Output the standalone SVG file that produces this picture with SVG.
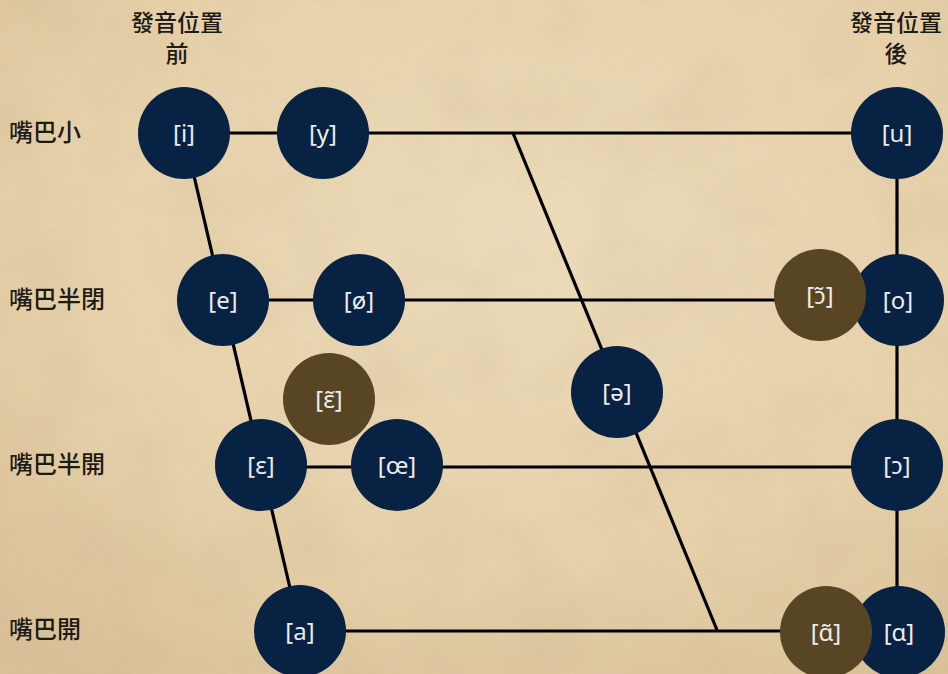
<svg xmlns="http://www.w3.org/2000/svg" width="948" height="674" viewBox="0 0 948 674">
<defs>
<radialGradient id="bg" cx="0.55" cy="0.35" r="0.8">
<stop offset="0" stop-color="#f0dfbe"/>
<stop offset="0.6" stop-color="#e9d4ad"/>
<stop offset="1" stop-color="#dcc39a"/>
</radialGradient>
<filter id="grain" x="0" y="0" width="100%" height="100%">
<feTurbulence type="fractalNoise" baseFrequency="0.9" numOctaves="2" seed="3"/>
<feColorMatrix type="matrix" values="0 0 0 0 0.45  0 0 0 0 0.35  0 0 0 0 0.2  0 0 0 0.5 -0.12"/>
</filter>
<filter id="blot" x="0" y="0" width="100%" height="100%">
<feTurbulence type="fractalNoise" baseFrequency="0.012" numOctaves="3" seed="7"/>
<feColorMatrix type="matrix" values="0 0 0 0 0.55  0 0 0 0 0.42  0 0 0 0 0.25  0 0 0 0.6 -0.25"/>
</filter>
<style>
.ln{stroke:#000;stroke-width:3.2;fill:none;stroke-linecap:butt}
.v{fill:#082244}
.n{fill:#574524}
.t{font-family:"Noto Sans","DejaVu Sans",sans-serif;font-size:24px;fill:#ececec;text-anchor:middle}
.h{font-family:"Noto Sans CJK TC","Noto Sans CJK SC",sans-serif;font-size:24px;font-weight:500;fill:#1e1a14}
.hd{font-family:"Noto Sans CJK TC","Noto Sans CJK SC",sans-serif;font-size:23px;font-weight:500;fill:#1e1a14;text-anchor:middle}
</style>
</defs>
<rect width="948" height="674" fill="url(#bg)"/>
<rect width="948" height="674" filter="url(#blot)" opacity="0.6"/>
<rect width="948" height="674" filter="url(#grain)" opacity="0.5"/>

<g id="headers">
<text class="hd" x="177" y="31">發音位置</text>
<text class="hd" x="177" y="62">前</text>
<text class="hd" x="896" y="31">發音位置</text>
<text class="hd" x="896" y="62">後</text>
<text class="h" x="9" y="141">嘴巴小</text>
<text class="h" x="9" y="308">嘴巴半閉</text>
<text class="h" x="9" y="473">嘴巴半開</text>
<text class="h" x="9" y="638">嘴巴開</text>
</g>

<g id="connectors">
<line class="ln" x1="184" y1="133" x2="897" y2="133"/>
<line class="ln" x1="223" y1="300" x2="898" y2="300"/>
<line class="ln" x1="261" y1="467" x2="897" y2="467"/>
<line class="ln" x1="300" y1="631" x2="826" y2="631"/>
<line class="ln" x1="184" y1="133" x2="300" y2="631"/>
<line class="ln" x1="897" y1="133" x2="897" y2="632"/>
<line class="ln" x1="513" y1="133" x2="717" y2="630"/>
</g>

<g id="node-i"><circle class="v" cx="184" cy="133" r="46"/><text class="t" x="184" y="142">[i]</text></g>
<g id="node-y"><circle class="v" cx="323" cy="133" r="46"/><text class="t" x="323" y="142">[y]</text></g>
<g id="node-u"><circle class="v" cx="897" cy="133" r="46"/><text class="t" x="897" y="142">[u]</text></g>
<g id="node-e"><circle class="v" cx="223" cy="300" r="46"/><text class="t" x="223" y="309">[e]</text></g>
<g id="node-oslash"><circle class="v" cx="359" cy="300" r="46"/><text class="t" x="359" y="309">[ø]</text></g>
<g id="node-o"><circle class="v" cx="898" cy="300" r="46"/><text class="t" x="898" y="309">[o]</text></g>
<g id="node-open-o-nasal"><circle class="n" cx="820" cy="295" r="46"/><text class="t" x="820" y="304">[ɔ̃]</text></g>
<g id="node-epsilon-nasal"><circle class="n" cx="329" cy="399" r="46"/><text class="t" x="329" y="408">[ɛ̃]</text></g>
<g id="node-schwa"><circle class="v" cx="617" cy="392" r="46"/><text class="t" x="617" y="401">[ə]</text></g>
<g id="node-epsilon"><circle class="v" cx="261" cy="465" r="46"/><text class="t" x="261" y="474">[ɛ]</text></g>
<g id="node-oe"><circle class="v" cx="397" cy="465" r="46"/><text class="t" x="397" y="474">[œ]</text></g>
<g id="node-open-o"><circle class="v" cx="897" cy="465" r="46"/><text class="t" x="897" y="474">[ɔ]</text></g>
<g id="node-a"><circle class="v" cx="300" cy="631" r="46"/><text class="t" x="300" y="640">[a]</text></g>
<g id="node-alpha"><circle class="v" cx="899" cy="632" r="46"/><text class="t" x="899" y="641">[ɑ]</text></g>
<g id="node-alpha-nasal"><circle class="n" cx="826" cy="632" r="46"/><text class="t" x="826" y="641">[ɑ̃]</text></g>
</svg>
